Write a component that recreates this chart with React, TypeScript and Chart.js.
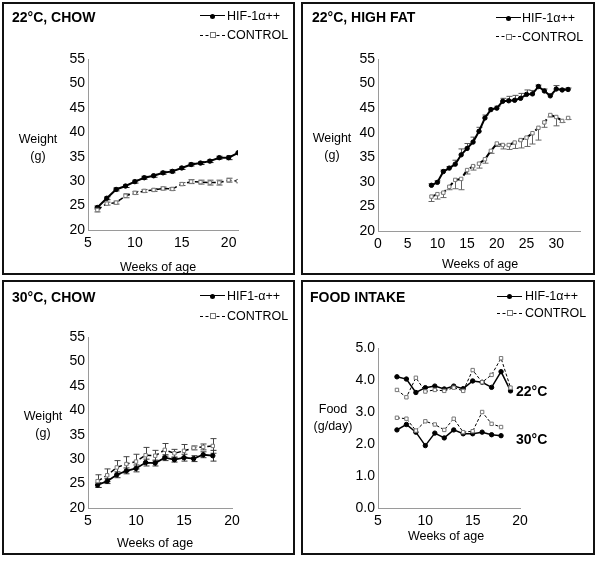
import React, { useEffect, useRef } from "react";
import { Chart, registerables } from "chart.js";

Chart.register(...registerables);

const FONT = "'Liberation Sans', Arial, Helvetica, sans-serif";

// ---------- DATA ----------
// Panel A: 22°C, chow
const chowWeeks22 = [6, 7, 8, 9, 10, 11, 12, 13, 14, 15, 16, 17, 18, 19, 20, 21];
const chowHif22 = [24.6, 26.5, 28.3, 29.0, 29.9, 30.7, 31.1, 31.7, 32.0, 32.7, 33.4, 33.7, 34.1, 34.8, 34.8, 35.8];
const chowHif22Err = [0.3, 0.3, 0.3, 0.3, 0.3, 0.3, 0.3, 0.3, 0.3, 0.3, 0.3, 0.3, 0.3, 0.3, 0.4, 0];
const chowCtl22 = [24.1, 25.4, 25.6, 27.0, 27.6, 28.0, 28.2, 28.5, 28.4, 29.4, 29.9, 29.8, 29.7, 29.7, 30.2, 30.0];
const chowCtl22Err = [0.4, 0.3, 0.3, 0.4, 0.3, 0.3, 0.3, 0.3, 0.3, 0.3, 0.4, 0.4, 0.5, 0.5, 0.4, 0];

// Panel B: 22°C, high fat
const hfWeeks = [9, 10, 11, 12, 13, 14, 15, 16, 17, 18, 19, 20, 21, 22, 23, 24, 25, 26, 27, 28, 29, 30, 31, 32];
const hfHif = [29.3, 29.9, 32.1, 32.8, 33.6, 35.5, 36.8, 38.1, 40.3, 43.0, 44.7, 45.0, 46.4, 46.5, 46.6, 47.0, 47.8, 47.9, 49.4, 48.5, 47.5, 48.9, 48.7, 48.8];
const hfHifErrUp = [0.3, 0.3, 0.3, 0.3, 0.8, 1.2, 1.0, 1.0, 0.8, 0.6, 0.3, 0.4, 0.6, 0.9, 1.0, 1.0, 0.9, 0.7, 0.3, 0.4, 0.3, 0.7, 0.3, 0.3];
const hfCtl = [27.0, 27.5, 27.8, 29.0, 30.4, 30.6, 32.4, 33.2, 33.7, 34.6, 36.3, 37.8, 37.5, 37.5, 38.0, 38.5, 39.0, 39.9, 41.0, 42.1, 43.6, 43.2, 42.4, 43.0];
const hfCtlErrDown = [1.0, 1.0, 1.0, 0.6, 1.8, 2.2, 0.8, 0.8, 0.9, 0.8, 0.5, 0.6, 0.8, 0.9, 1.2, 1.6, 1.8, 2.2, 2.5, 1.0, 0.4, 1.8, 0.3, 0.3];

// Panel C: 30°C, chow
const chowWeeks30 = [6, 7, 8, 9, 10, 11, 12, 13, 14, 15, 16, 17, 18];
const chowHif30 = [24.7, 25.5, 26.8, 27.6, 28.1, 29.3, 29.2, 30.3, 29.9, 30.3, 30.1, 30.9, 30.7];
const chowHif30Err = [0.5, 0.5, 0.6, 0.6, 0.7, 0.7, 0.6, 0.6, 0.5, 0.7, 0.6, 0.6, 1.1];
const chowCtl30 = [25.5, 26.7, 28.3, 29.0, 29.5, 30.8, 30.7, 31.9, 31.2, 31.7, 32.3, 32.5, 32.7];
const chowCtl30Err = [1.3, 1.3, 1.4, 1.5, 1.5, 1.6, 1.1, 1.3, 0.8, 1.3, 0.4, 0.6, 1.5];

// Panel D: food intake
const foodWeeks22 = [7, 8, 9, 10, 11, 12, 13, 14, 15, 16, 17, 18, 19];
const foodHif22 = [4.10, 4.03, 3.61, 3.76, 3.81, 3.72, 3.81, 3.73, 3.97, 3.93, 3.77, 4.26, 3.66];
const foodCtl22 = [3.69, 3.46, 4.07, 3.64, 3.69, 3.66, 3.76, 3.66, 4.31, 3.93, 4.16, 4.68, 3.76];
const foodWeeks30 = [7, 8, 9, 10, 11, 12, 13, 14, 15, 16, 17, 18];
const foodHif30 = [2.44, 2.61, 2.37, 1.95, 2.34, 2.19, 2.44, 2.32, 2.32, 2.37, 2.29, 2.26];
const foodCtl30 = [2.82, 2.79, 2.42, 2.71, 2.61, 2.44, 2.79, 2.37, 2.40, 3.00, 2.63, 2.53];

// ---------- HELPERS ----------
const toXY = (xs: number[], ys: number[]) => xs.map((x, i) => ({ x, y: ys[i] }));

function hifDs(xs: number[], ys: number[], lw: number, errUp?: number[], errDown?: number[], errColor = "#222") {
  return {
    data: toXY(xs, ys),
    borderColor: "#000",
    backgroundColor: "#000",
    borderWidth: lw,
    pointRadius: 2.2,
    pointStyle: "circle",
    pointBackgroundColor: "#000",
    pointBorderColor: "#000",
    pointBorderWidth: 1,
    tension: 0,
    errUp,
    errDown,
    errColor,
  };
}

function ctlDs(xs: number[], ys: number[], lw: number, dash: number[], errUp?: number[], errDown?: number[], errColor = "#555") {
  return {
    data: toXY(xs, ys),
    borderColor: "#000",
    backgroundColor: "#fff",
    borderWidth: lw,
    borderDash: dash,
    pointRadius: 2.4,
    pointStyle: "rect",
    pointBackgroundColor: "#fff",
    pointBorderColor: "#777",
    pointBorderWidth: 1,
    tension: 0,
    errUp,
    errDown,
    errColor,
  };
}

const errorBarPlugin = {
  id: "errbars",
  beforeDatasetsDraw(chart: any) {
    const ctx = chart.ctx;
    const xs = chart.scales.x;
    const ys = chart.scales.y;
    chart.data.datasets.forEach((ds: any) => {
      if (!ds.errUp && !ds.errDown) return;
      ctx.save();
      ctx.strokeStyle = ds.errColor || "#333";
      ctx.lineWidth = 1;
      ds.data.forEach((pt: any, i: number) => {
        const up = ds.errUp ? ds.errUp[i] : 0;
        const dn = ds.errDown ? ds.errDown[i] : 0;
        if (!up && !dn) return;
        const px = Math.round(xs.getPixelForValue(pt.x)) + 0.5;
        const y1 = ys.getPixelForValue(pt.y + up);
        const y2 = ys.getPixelForValue(pt.y - dn);
        ctx.beginPath();
        ctx.moveTo(px, y1);
        ctx.lineTo(px, y2);
        if (up) {
          ctx.moveTo(px - 3, y1);
          ctx.lineTo(px + 3, y1);
        }
        if (dn) {
          ctx.moveTo(px - 3, y2);
          ctx.lineTo(px + 3, y2);
        }
        ctx.stroke();
      });
      ctx.restore();
    });
  },
};

type Box = { left: number; top: number; width: number; height: number };
type Plot = { left: number; top: number; right: number; bottom: number };

const YW = 40;
const XH = 24;

function ChartCanvas(props: {
  box: Box;
  plot: Plot;
  xMin: number;
  xMax: number;
  xStep: number;
  yMin: number;
  yMax: number;
  yStep: number;
  yDec: number;
  datasets: any[];
}) {
  const ref = useRef<HTMLCanvasElement>(null);
  const { box, plot } = props;
  useEffect(() => {
    const onStep = (step: number) => (s: any) => {
      s.ticks = s.ticks.filter((t: any) => Math.abs(t.value / step - Math.round(t.value / step)) < 1e-6);
    };
    const chart = new Chart(ref.current as HTMLCanvasElement, {
      type: "line",
      data: { datasets: props.datasets as any },
      options: {
        animation: false,
        responsive: false,
        maintainAspectRatio: false,
        devicePixelRatio: 1,
        layout: {
          padding: {
            left: plot.left - box.left - YW,
            top: plot.top - box.top,
            right: box.left + box.width - plot.right,
            bottom: box.top + box.height - plot.bottom - XH,
          },
        },
        plugins: { legend: { display: false }, tooltip: { enabled: false }, title: { display: false } },
        scales: {
          x: {
            type: "linear",
            min: props.xMin,
            max: props.xMax,
            grid: { display: false, drawTicks: false },
            border: { display: true, color: "#9a9a9a", width: 1 },
            ticks: {
              stepSize: props.xStep,
              includeBounds: false,
              autoSkip: false,
              maxRotation: 0,
              padding: 5,
              color: "#000",
              font: { family: FONT, size: 14 },
            },
            afterBuildTicks: onStep(props.xStep),
            afterFit: (s: any) => {
              s.height = XH;
              s.paddingLeft = 0;
              s.paddingRight = 0;
              s.paddingTop = 0;
              s.paddingBottom = 0;
            },
          },
          y: {
            type: "linear",
            min: props.yMin,
            max: props.yMax,
            grid: { display: false, drawTicks: false },
            border: { display: true, color: "#9a9a9a", width: 1 },
            ticks: {
              stepSize: props.yStep,
              includeBounds: false,
              autoSkip: false,
              padding: 3,
              color: "#000",
              font: { family: FONT, size: 14 },
              callback: (v: any) => Number(v).toFixed(props.yDec),
            },
            afterBuildTicks: onStep(props.yStep),
            afterFit: (s: any) => {
              s.width = YW;
              s.paddingLeft = 0;
              s.paddingRight = 0;
              s.paddingTop = 0;
              s.paddingBottom = 0;
            },
          },
        },
      } as any,
      plugins: [errorBarPlugin],
    });
    return () => chart.destroy();
  }, []);
  return (
    <canvas
      ref={ref}
      width={box.width}
      height={box.height}
      style={{ position: "absolute", left: box.left, top: box.top, width: box.width, height: box.height, display: "block" }}
    />
  );
}

function Txt(props: { x: number; y: number; text: string; size: number; bold?: boolean; center?: boolean }) {
  return (
    <div
      style={{
        position: "absolute",
        left: props.x,
        top: props.y,
        transform: props.center ? "translate(-50%, -50%)" : "translate(0, -50%)",
        font: `${props.bold ? "bold " : ""}${props.size}px ${FONT}`,
        lineHeight: 1,
        whiteSpace: "nowrap",
        color: "#000",
      }}
    >
      {props.text}
    </div>
  );
}

function LegendRow(props: { x: number; y: number; len: number; dashed: boolean; lw: number; label: string; textX: number }) {
  const { x, y, len, dashed, lw } = props;
  return (
    <>
      <div
        style={{
          position: "absolute",
          left: x,
          top: y - lw / 2,
          width: len,
          height: 0,
          borderTop: `${lw}px ${dashed ? "dashed" : "solid"} #000`,
        }}
      />
      {dashed ? (
        <div
          style={{
            position: "absolute",
            left: x + len / 2 - 3,
            top: y - 3,
            width: 4,
            height: 4,
            border: "1px solid #777",
            background: "#fff",
          }}
        />
      ) : (
        <div
          style={{
            position: "absolute",
            left: x + len / 2 - 2.5,
            top: y - 2.5,
            width: 5,
            height: 5,
            borderRadius: "50%",
            background: "#000",
          }}
        />
      )}
      <Txt x={props.textX} y={y} text={props.label} size={12.5} />
    </>
  );
}

function Frame(props: { box: Box }) {
  const b = props.box;
  return (
    <div
      style={{
        position: "absolute",
        left: b.left,
        top: b.top,
        width: b.width,
        height: b.height,
        boxSizing: "border-box",
        border: "2px solid #111",
        pointerEvents: "none",
      }}
    />
  );
}

const boxA: Box = { left: 2, top: 2, width: 293, height: 273 };
const boxB: Box = { left: 301, top: 2, width: 294, height: 273 };
const boxC: Box = { left: 2, top: 280, width: 293, height: 275 };
const boxD: Box = { left: 301, top: 280, width: 294, height: 275 };

export default function App() {
  return (
    <div style={{ position: "absolute", left: 0, top: 0, width: 600, height: 561, background: "#fff", overflow: "hidden" }}>
      {/* Panel A */}
      <ChartCanvas
        box={boxA}
        plot={{ left: 88, top: 59, right: 238, bottom: 230 }}
        xMin={5}
        xMax={21}
        xStep={5}
        yMin={20}
        yMax={55}
        yStep={5}
        yDec={0}
        datasets={[
          ctlDs(chowWeeks22, chowCtl22, 1.5, [5, 3], chowCtl22Err, chowCtl22Err),
          hifDs(chowWeeks22, chowHif22, 2, chowHif22Err, chowHif22Err),
        ]}
      />
      <Frame box={boxA} />
      <Txt x={12} y={17} text="22°C, CHOW" size={14} bold />
      <LegendRow x={200} y={16} len={25} dashed={false} lw={1.5} label="HIF-1α++" textX={227} />
      <LegendRow x={200} y={35} len={25} dashed={true} lw={1} label="CONTROL" textX={227} />
      <Txt x={38} y={139} text="Weight" size={12.5} center />
      <Txt x={38} y={156} text="(g)" size={12.5} center />
      <Txt x={158} y={267} text="Weeks of age" size={12.5} center />

      {/* Panel B */}
      <ChartCanvas
        box={boxB}
        plot={{ left: 378, top: 59, right: 580, bottom: 231 }}
        xMin={0}
        xMax={34}
        xStep={5}
        yMin={20}
        yMax={55}
        yStep={5}
        yDec={0}
        datasets={[
          ctlDs(hfWeeks, hfCtl, 2, [6, 4], undefined, hfCtlErrDown, "#666"),
          hifDs(hfWeeks, hfHif, 2, hfHifErrUp, undefined, "#555"),
        ]}
      />
      <Frame box={boxB} />
      <Txt x={312} y={17} text="22°C, HIGH FAT" size={14} bold />
      <LegendRow x={496} y={18} len={25} dashed={false} lw={1.5} label="HIF-1α++" textX={522} />
      <LegendRow x={496} y={37} len={25} dashed={true} lw={1.5} label="CONTROL" textX={522} />
      <Txt x={332} y={138} text="Weight" size={12.5} center />
      <Txt x={332} y={155} text="(g)" size={12.5} center />
      <Txt x={480} y={264} text="Weeks of age" size={12.5} center />

      {/* Panel C */}
      <ChartCanvas
        box={boxC}
        plot={{ left: 88, top: 337, right: 232, bottom: 508 }}
        xMin={5}
        xMax={20}
        xStep={5}
        yMin={20}
        yMax={55}
        yStep={5}
        yDec={0}
        datasets={[
          ctlDs(chowWeeks30, chowCtl30, 1.5, [5, 3], chowCtl30Err, chowCtl30Err, "#444"),
          hifDs(chowWeeks30, chowHif30, 1.8, chowHif30Err, chowHif30Err, "#333"),
        ]}
      />
      <Frame box={boxC} />
      <Txt x={12} y={297} text="30°C, CHOW" size={14} bold />
      <LegendRow x={200} y={296} len={25} dashed={false} lw={1.5} label="HIF1-α++" textX={227} />
      <LegendRow x={200} y={316} len={25} dashed={true} lw={1} label="CONTROL" textX={227} />
      <Txt x={43} y={416} text="Weight" size={12.5} center />
      <Txt x={43} y={433} text="(g)" size={12.5} center />
      <Txt x={155} y={543} text="Weeks of age" size={12.5} center />

      {/* Panel D */}
      <ChartCanvas
        box={boxD}
        plot={{ left: 378, top: 348, right: 520, bottom: 508 }}
        xMin={5}
        xMax={20}
        xStep={5}
        yMin={0}
        yMax={5}
        yStep={1}
        yDec={1}
        datasets={[
          ctlDs(foodWeeks22, foodCtl22, 1, [3, 2]),
          hifDs(foodWeeks22, foodHif22, 1.5),
          ctlDs(foodWeeks30, foodCtl30, 1, [3, 2]),
          hifDs(foodWeeks30, foodHif30, 1.5),
        ]}
      />
      <Frame box={boxD} />
      <Txt x={310} y={297} text="FOOD INTAKE" size={14} bold />
      <LegendRow x={497} y={296} len={25} dashed={false} lw={1} label="HIF-1α++" textX={525} />
      <LegendRow x={497} y={313} len={25} dashed={true} lw={1} label="CONTROL" textX={525} />
      <Txt x={333} y={409} text="Food" size={12.5} center />
      <Txt x={333} y={426} text="(g/day)" size={12.5} center />
      <Txt x={446} y={536} text="Weeks of age" size={12.5} center />
      <Txt x={516} y={391} text="22°C" size={14} bold />
      <Txt x={516} y={439} text="30°C" size={14} bold />
    </div>
  );
}
